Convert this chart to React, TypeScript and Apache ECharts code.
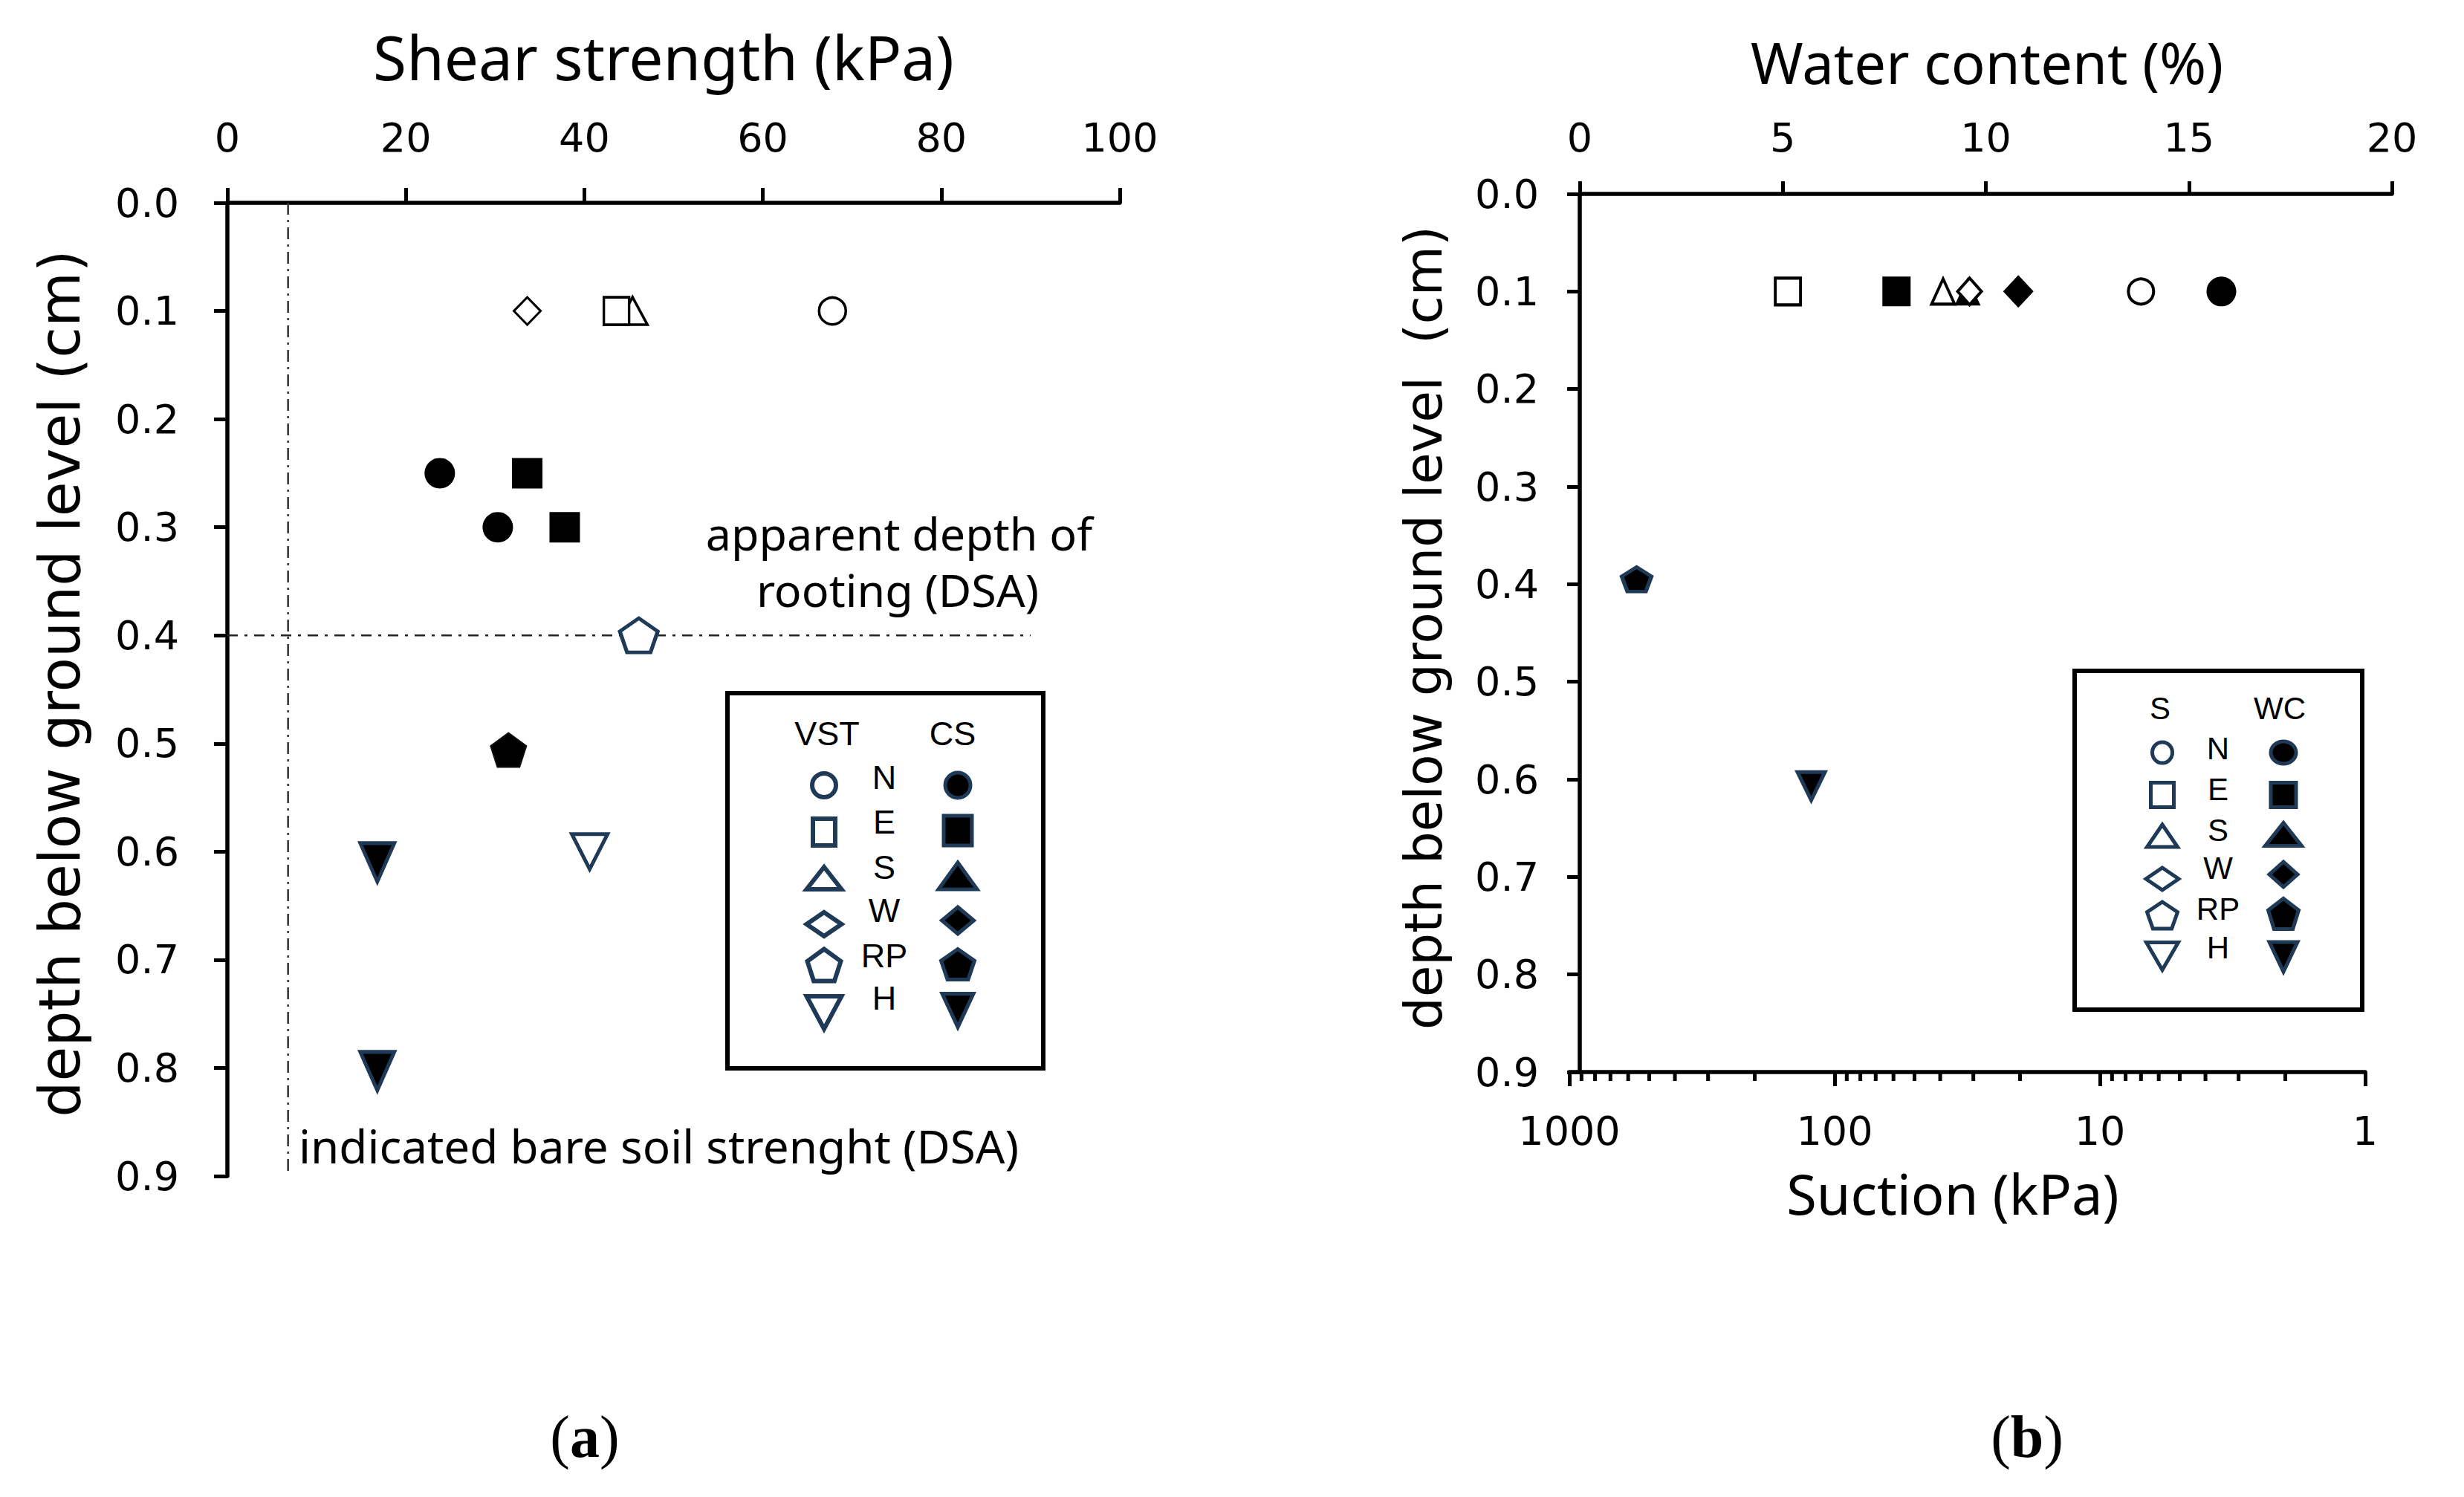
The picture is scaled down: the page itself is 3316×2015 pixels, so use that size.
import React, { useEffect, useRef } from "react";
import * as echarts from "echarts";

const W = 3316;
const H = 2015;
const NAVY = "#1F3A57";
const PENTAGON = "path://M0,-1L0.951,-0.309L0.588,0.809L-0.588,0.809L-0.951,-0.309Z";

// ---------------- Panel (a): shear strength (kPa) vs depth ----------------
const SHEAR_TICK_INTERVAL = 20;
const VST_N = [[67.8, 0.1]];
const VST_E = [[43.6, 0.1]];
const VST_S = [[45.4, 0.1]];
const VST_W = [[33.6, 0.1]];
const VST_RP = [[46.1, 0.4]];
const VST_H = [[40.6, 0.6]];
const CS_N = [[23.8, 0.25], [30.3, 0.3]];
const CS_E = [[33.6, 0.25], [37.8, 0.3]];
const CS_RP = [[31.5, 0.506]];
const CS_H = [[16.8, 0.61], [16.8, 0.803]];
const DSA_STRENGTH_LINE = [[6.8, 0], [6.8, 0.9]];
const DSA_ROOTING_LINE = [[0, 0.4], [90, 0.4]];

// ---------------- Panel (b): suction (kPa, log) and water content (%) ----------------
const S_N = [[7.0, 0.1]];
const S_E = [[150, 0.1]];
const S_S = [[39, 0.1]];
const S_W = [[31, 0.1]];
const WC_N = [[15.8, 0.1]];
const WC_E = [[7.8, 0.1]];
const WC_S = [[9.55, 0.1]];
const WC_W = [[10.8, 0.1]];
const WC_RP = [[1.4, 0.395]];
const WC_H = [[5.7, 0.607]];
const SUCTION_MINOR_TICKS = [
  2, 3, 4, 5, 6, 7, 8, 9,
  20, 30, 40, 50, 60, 70, 80, 90,
  200, 300, 400, 500, 600, 700, 800, 900,
];

const LEGEND_CODES = ["N", "E", "S", "W", "RP", "H"];
const LEGEND_KINDS = ["circle", "rect", "triangle", "diamond", "pentagon", "downTriangle"];

type Kind = "circle" | "rect" | "triangle" | "diamond" | "pentagon" | "downTriangle";

function scatter(
  name: string,
  data: number[][],
  idx: number,
  kind: Kind,
  size: number | number[],
  fill: string,
  stroke: string,
  bw: number
) {
  return {
    type: "scatter",
    name,
    data,
    xAxisIndex: idx,
    yAxisIndex: idx,
    symbol: kind === "pentagon" ? PENTAGON : kind === "downTriangle" ? "triangle" : kind,
    symbolRotate: kind === "downTriangle" ? 180 : 0,
    symbolSize: size,
    itemStyle: { color: fill, borderColor: stroke, borderWidth: bw, opacity: 1 },
    emphasis: { disabled: true },
    silent: true,
    clip: false,
    z: 3,
  };
}

function pentagonPts(cx: number, cy: number, w: number, h: number) {
  const base = [[0, -1], [0.951, -0.309], [0.588, 0.809], [-0.588, 0.809], [-0.951, -0.309]];
  return base.map(([px, py]) => [cx + (px / 0.951) * (w / 2), cy + ((py + 0.0955) / 0.9045) * (h / 2)]);
}

function shape(kind: string, cx: number, cy: number, w: number, h: number, fill: string, stroke: string, lw: number) {
  const style = { fill, stroke, lineWidth: lw };
  switch (kind) {
    case "circle":
      return { type: "ellipse", shape: { cx, cy, rx: w / 2, ry: h / 2 }, style, silent: true };
    case "rect":
      return { type: "rect", shape: { x: cx - w / 2, y: cy - h / 2, width: w, height: h }, style, silent: true };
    case "triangle":
      return {
        type: "polygon",
        shape: { points: [[cx, cy - h / 2], [cx + w / 2, cy + h / 2], [cx - w / 2, cy + h / 2]] },
        style,
        silent: true,
      };
    case "downTriangle":
      return {
        type: "polygon",
        shape: { points: [[cx - w / 2, cy - h / 2], [cx + w / 2, cy - h / 2], [cx, cy + h / 2]] },
        style,
        silent: true,
      };
    case "diamond":
      return {
        type: "polygon",
        shape: { points: [[cx, cy - h / 2], [cx + w / 2, cy], [cx, cy + h / 2], [cx - w / 2, cy]] },
        style,
        silent: true,
      };
    default:
      return { type: "polygon", shape: { points: pentagonPts(cx, cy, w, h) }, style, silent: true };
  }
}

function txt(
  text: string,
  x: number,
  y: number,
  size: number,
  family: string,
  opts: { align?: string; rotation?: number; weight?: string } = {}
) {
  const align = opts.align || "center";
  return {
    type: "text",
    x,
    y,
    rotation: opts.rotation || 0,
    silent: true,
    z: 10,
    style: {
      text,
      x: 0,
      y: 0,
      fontSize: size,
      fontFamily: family,
      fontWeight: opts.weight || "normal",
      fill: "#000",
      align,
      textAlign: align,
      verticalAlign: "middle",
      textVerticalAlign: "middle",
    },
  };
}

function legend(cfg: any) {
  const els: any[] = [];
  els.push({
    type: "rect",
    shape: { x: cfg.box[0], y: cfg.box[1], width: cfg.box[2], height: cfg.box[3] },
    style: { fill: "#fff", stroke: "#000", lineWidth: 6 },
    silent: true,
    z: 5,
  });
  els.push({ ...txt(cfg.heads[0], cfg.headX[0], cfg.headY, cfg.font, "Liberation Sans"), z: 11 });
  els.push({ ...txt(cfg.heads[1], cfg.headX[1], cfg.headY, cfg.font, "Liberation Sans"), z: 11 });
  LEGEND_CODES.forEach((code, i) => {
    els.push({ ...txt(code, cfg.letterX, cfg.letterY[i], cfg.font, "Liberation Sans"), z: 11 });
    const kind = LEGEND_KINDS[i];
    const o = cfg.openSize[i];
    const f = cfg.fillSize[i];
    els.push({ ...shape(kind, cfg.openX, cfg.openY[i], o[0], o[1], "#fff", NAVY, cfg.openLw), z: 11 });
    els.push({ ...shape(kind, cfg.fillX, cfg.fillY[i], f[0], f[1], "#000", NAVY, cfg.fillLw), z: 11 });
  });
  return els;
}

const LEGEND_A = {
  box: [979, 933, 425, 505],
  heads: ["VST", "CS"],
  headX: [1113, 1282],
  headY: 987,
  font: 45,
  letterX: 1190,
  letterY: [1046, 1106, 1167, 1225, 1286, 1343],
  openX: 1109,
  openY: [1057, 1120, 1182, 1244, 1299, 1363],
  fillX: 1289,
  fillY: [1057, 1118, 1179, 1239, 1298, 1360],
  openLw: 6,
  fillLw: 5,
  openSize: [[32, 32], [30, 36], [47, 30], [47, 32], [45, 43], [47, 44]],
  fillSize: [[34, 34], [38, 40], [52, 36], [43, 36], [45, 41], [42, 45]],
};

const LEGEND_B = {
  box: [2792, 903, 387, 456],
  heads: ["S", "WC"],
  headX: [2907, 3068],
  headY: 953,
  font: 42,
  letterX: 2985,
  letterY: [1007, 1062, 1117, 1168, 1223, 1275],
  openX: 2910,
  openY: [1013, 1070, 1125, 1183, 1232, 1287],
  fillX: 3073,
  fillY: [1013, 1070, 1123, 1177, 1230, 1288],
  openLw: 5,
  fillLw: 5,
  openSize: [[27, 28], [31, 33], [41, 30], [44, 30], [41, 36], [43, 37]],
  fillSize: [[34, 30], [34, 33], [49, 31], [38, 34], [41, 41], [38, 40]],
};

const TICK_FONT = 54;
const axisLine = { onZero: false, lineStyle: { color: "#000", width: 5.5 } };
const tick = (len: number) => ({ show: true, inside: false, length: len, lineStyle: { color: "#000", width: 5 } });
const lbl = (margin: number, extra: any = {}) => ({
  fontFamily: "DejaVu Sans",
  fontSize: TICK_FONT,
  color: "#000",
  margin,
  ...extra,
});

function buildOption() {
  const depthFmt = (v: number) => v.toFixed(1);
  const caption = (letter: string, x: number) => ({
    type: "text",
    x,
    y: 1934,
    silent: true,
    style: {
      text: `{p|(}{b|${letter}}{p|)}`,
      x: 0,
      y: 0,
      align: "center",
      textAlign: "center",
      verticalAlign: "middle",
      textVerticalAlign: "middle",
      rich: {
        p: { fontFamily: "Liberation Serif", fontSize: 80, fill: "#000", color: "#000" },
        b: { fontFamily: "Liberation Serif", fontSize: 80, fontWeight: "bold", fill: "#000", color: "#000" },
      },
    },
  });

  return {
    animation: false,
    backgroundColor: "#fff",
    grid: [
      { left: 306, top: 273, width: 1201, height: 1310, outerBoundsMode: "none" },
      { left: 2126, top: 261, width: 1093, height: 1182, outerBoundsMode: "none" },
      { left: 2112, top: 261, width: 1071, height: 1182, outerBoundsMode: "none" },
    ],
    xAxis: [
      {
        gridIndex: 0,
        type: "value",
        position: "top",
        min: 0,
        max: 100,
        interval: SHEAR_TICK_INTERVAL,
        axisLine,
        axisTick: tick(20),
        axisLabel: lbl(61),
        splitLine: { show: false },
      },
      {
        gridIndex: 1,
        type: "value",
        position: "top",
        min: 0,
        max: 20,
        interval: 5,
        axisLine,
        axisTick: tick(17),
        axisLabel: lbl(49),
        splitLine: { show: false },
      },
      {
        gridIndex: 2,
        type: "log",
        logBase: 10,
        min: 1,
        max: 1000,
        inverse: true,
        position: "bottom",
        axisLine,
        axisTick: tick(19),
        axisLabel: lbl(52, { formatter: (v: number) => String(Math.round(v)) }),
        splitLine: { show: false },
        minorTick: { show: false },
      },
    ],
    yAxis: [
      {
        gridIndex: 0,
        type: "value",
        inverse: true,
        min: 0,
        max: 0.9,
        interval: 0.1,
        axisLine,
        axisTick: tick(18),
        axisLabel: lbl(65, { formatter: depthFmt }),
        splitLine: { show: false },
      },
      {
        gridIndex: 1,
        type: "value",
        inverse: true,
        min: 0,
        max: 0.9,
        interval: 0.1,
        axisLine,
        axisTick: tick(17),
        axisLabel: lbl(55, { formatter: depthFmt }),
        splitLine: { show: false },
      },
      {
        gridIndex: 2,
        type: "value",
        show: false,
        inverse: true,
        min: 0,
        max: 0.9,
        splitLine: { show: false },
      },
    ],
    series: [
      // reference lines (a)
      {
        type: "line",
        xAxisIndex: 0,
        yAxisIndex: 0,
        data: DSA_STRENGTH_LINE,
        symbol: "none",
        silent: true,
        z: 1,
        lineStyle: { color: "#333", width: 2.5, type: [16, 7, 3, 7] },
      },
      {
        type: "line",
        xAxisIndex: 0,
        yAxisIndex: 0,
        data: DSA_ROOTING_LINE,
        symbol: "none",
        silent: true,
        z: 1,
        lineStyle: { color: "#222", width: 2.5, type: [14, 9, 4, 9] },
      },
      // panel (a) markers
      scatter("VST S", VST_S, 0, "triangle", [40, 37], "#fff", "#000", 3.5),
      scatter("VST E", VST_E, 0, "rect", [34, 37], "#fff", "#000", 3.5),
      scatter("VST W", VST_W, 0, "diamond", [36, 37], "#fff", "#000", 3),
      scatter("VST N", VST_N, 0, "circle", 36, "#fff", "#000", 3.5),
      scatter("VST RP", VST_RP, 0, "pentagon", [51, 46], "#fff", NAVY, 5),
      scatter("VST H", VST_H, 0, "downTriangle", [48, 47], "#fff", NAVY, 5),
      scatter("CS N", CS_N, 0, "circle", 41, "#000", "#000", 0),
      scatter("CS E", CS_E, 0, "rect", 41, "#000", "#000", 0),
      scatter("CS RP", CS_RP, 0, "pentagon", [48, 46], "#000", "#111", 2),
      scatter("CS H", CS_H, 0, "downTriangle", [46, 52], "#000", NAVY, 5),
      // panel (b) water content (filled) on top axis
      scatter("WC S", WC_S, 1, "triangle", [35, 38], "#000", "#000", 0),
      // panel (b) suction (open) on log axis
      scatter("S S", S_S, 2, "triangle", [31, 34], "#fff", "#000", 4),
      scatter("S W", S_W, 2, "diamond", [32, 36], "#fff", "#000", 4),
      scatter("S E", S_E, 2, "rect", [34, 36], "#fff", "#000", 4),
      scatter("S N", S_N, 2, "circle", 34, "#fff", "#000", 4),
      scatter("WC E", WC_E, 1, "rect", [38, 40], "#000", "#000", 0),
      scatter("WC W", WC_W, 1, "diamond", [41, 44], "#000", "#000", 0),
      scatter("WC N", WC_N, 1, "circle", 40, "#000", "#000", 0),
      scatter("WC RP", WC_RP, 1, "pentagon", [40, 33], "#000", NAVY, 5),
      scatter("WC H", WC_H, 1, "downTriangle", [37, 38], "#000", NAVY, 5),
      // minor ticks of the log suction axis
      {
        type: "custom",
        xAxisIndex: 2,
        yAxisIndex: 2,
        silent: true,
        z: 4,
        data: SUCTION_MINOR_TICKS.map((v) => [v, 0.9]),
        renderItem: (_params: any, api: any) => {
          const p = api.coord([api.value(0), api.value(1)]);
          return {
            type: "line",
            shape: { x1: p[0], y1: p[1], x2: p[0], y2: p[1] + 12 },
            style: { stroke: "#000", lineWidth: 5 },
          };
        },
      },
    ],
    graphic: {
      elements: [
        txt("Shear strength (kPa)", 893, 76, 82, "Noto Sans"),
        txt("depth below ground level (cm)", 80, 920, 76, "DejaVu Sans", { rotation: Math.PI / 2 }),
        txt("apparent depth of", 1210, 717, 61, "Noto Sans"),
        txt("rooting (DSA)", 1208, 793, 61, "Noto Sans"),
        txt("indicated bare soil strenght (DSA)", 402, 1542, 62, "Noto Sans", { align: "left" }),
        ...legend(LEGEND_A),
        caption("a", 787),
        txt("Water content (%)", 2674, 83, 76, "Noto Sans"),
        txt("depth below ground level  (cm)", 1916, 845, 69, "DejaVu Sans", { rotation: Math.PI / 2 }),
        txt("Suction (kPa)", 2628, 1606, 74, "Noto Sans"),
        ...legend(LEGEND_B),
        caption("b", 2728),
      ],
    },
  };
}

export default function App() {
  const ref = useRef<HTMLDivElement>(null);
  useEffect(() => {
    if (!ref.current) return;
    const chart = echarts.init(ref.current, undefined, { renderer: "svg", width: W, height: H });
    chart.setOption(buildOption() as any);
    return () => {
      chart.dispose();
    };
  }, []);
  return (
    <div
      ref={ref}
      style={{ position: "absolute", left: 0, top: 0, width: W, height: H, background: "#fff" }}
    />
  );
}
